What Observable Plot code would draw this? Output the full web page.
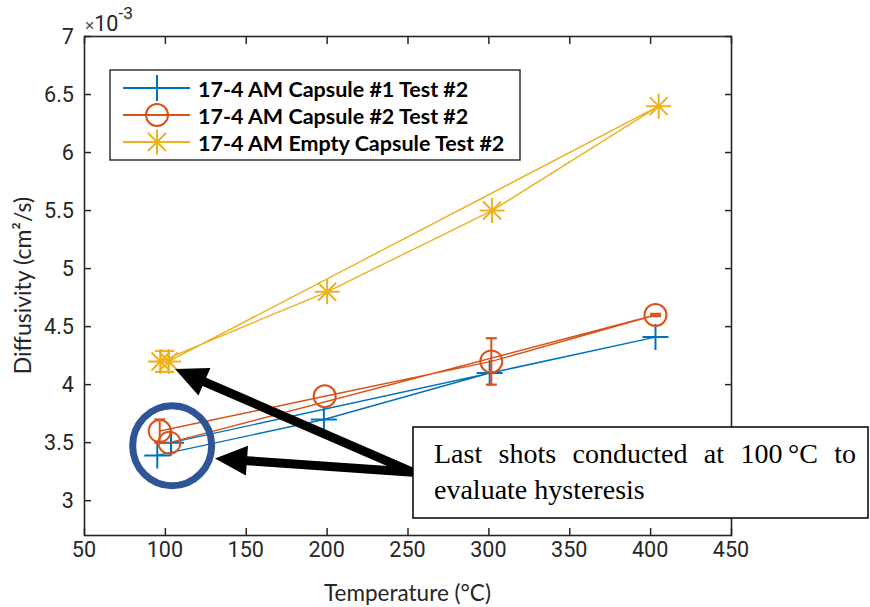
<!DOCTYPE html>
<html><head><meta charset="utf-8">
<script src="https://cdn.jsdelivr.net/npm/d3@7"></script>
<script src="https://cdn.jsdelivr.net/npm/@observablehq/plot@0.6"></script>
<style>
body{margin:0;background:#fff;}
#chart{width:870px;height:607px;overflow:hidden;}
</style></head><body><div id="chart"></div>
<script>
// ---- data (diffusivity in units of 1e-3 cm²/s; measurement order: heating 100→400 °C, then back to 100 °C)
const seriesNames = ["17-4 AM Capsule #1 Test #2", "17-4 AM Capsule #2 Test #2", "17-4 AM Empty Capsule Test #2"];
const seriesColors = ["#0072BD", "#D95319", "#EDB120"];
const cap1Temp = [95, 198, 300.5, 403, 103.5];
const cap1Diff = [3.39, 3.70, 4.10, 4.41, 3.50];
const cap1Err  = [0, 0, 0, 0, 0];
const cap2Temp = [96.5, 198.5, 301.5, 403, 102.5];
const cap2Diff = [3.60, 3.90, 4.20, 4.60, 3.50];
const cap2Err  = [0.10, 0, 0.20, 0.01, 0];
const emptyTemp = [97, 200, 302, 405, 102];
const emptyDiff = [4.20, 4.80, 5.50, 6.40, 4.20];
const emptyErr  = [0.09, 0, 0, 0, 0.09];
const xTicks = [50, 100, 150, 200, 250, 300, 350, 400, 450];
const yTicks = [3, 3.5, 4, 4.5, 5, 5.5, 6, 6.5, 7];
const xLabel = "Temperature (°C)";
const yLabel = "Diffusivity (cm²/s)";
const noteLines = ["Last shots conducted at 100\u2009°C to", "evaluate hysteresis"];
// annotation anchor points in data coordinates
const arrowTail = {t: 253.4, d: 3.24};
const arrowTips = [{t: 106.3, d: 4.13}, {t: 131.0, d: 3.36}];
const ringCenter = {t: 104.5, d: 3.47};

// ---- symbols (MATLAB-like)
const symPlus = {draw(c, s) { const r = Math.sqrt(s / Math.PI); c.moveTo(-r, 0); c.lineTo(r, 0); c.moveTo(0, -r); c.lineTo(0, r); }};
const symStar = {draw(c, s) { const r = Math.sqrt(s / Math.PI), q = r * 0.72; c.moveTo(-r, 0); c.lineTo(r, 0); c.moveTo(0, -r); c.lineTo(0, r); c.moveTo(-q, -q); c.lineTo(q, q); c.moveTo(-q, q); c.lineTo(q, -q); }};
const symCap = {draw(c, s) { const r = Math.sqrt(s / Math.PI); c.moveTo(-r, 0); c.lineTo(r, 0); }};
const symbols = [symPlus, "circle", symStar];
const symSize = [13, 11, 12.5];

const series = [[cap1Temp, cap1Diff, cap1Err], [cap2Temp, cap2Diff, cap2Err], [emptyTemp, emptyDiff, emptyErr]];
const rowsBy = series.map(([T, D, E], i) => T.map((t, j) => ({s: i, t, d: D[j], e: E[j]})));

const marks = [];
rowsBy.forEach((rows, i) => {
  const col = seriesColors[i];
  const err = rows.filter(r => r.e > 0);
  const caps = err.flatMap(r => [{t: r.t, y: r.d - r.e}, {t: r.t, y: r.d + r.e}]);
  marks.push(
    Plot.line(rows, {x: "t", y: "d", stroke: col, strokeWidth: 1.4}),
    Plot.ruleX(err, {x: "t", y1: r => r.d - r.e, y2: r => r.d + r.e, stroke: col, strokeWidth: 2}),
    Plot.dot(caps, {x: "t", y: "y", symbol: symCap, r: 5.5, stroke: col, strokeWidth: 2.2, fill: "none"}),
    Plot.dot(rows, {x: "t", y: "d", symbol: symbols[i], r: symSize[i], stroke: col, strokeWidth: 2, fill: "none"})
  );
});

const W = 870, H = 607;
const plot = Plot.plot({
  width: W, height: H,
  marginLeft: 84, marginRight: 139, marginTop: 36, marginBottom: 72,
  x: {domain: [50, 450]},
  y: {domain: [2.7, 7]},
  style: {fontFamily: "Roboto, 'Liberation Sans', Arial, sans-serif", fontSize: "20px", color: "#262626", background: "#fff", overflow: "visible"},
  marks: [
    ...marks,
    Plot.frame({stroke: "#262626", strokeWidth: 1.6}),
    Plot.axisX({ticks: xTicks, tickSize: -7, tickFormat: () => "", label: null, strokeWidth: 1.5}),
    Plot.axisX({anchor: "top", ticks: xTicks, tickSize: -7, tickFormat: () => "", label: null, strokeWidth: 1.5}),
    Plot.axisY({ticks: yTicks, tickSize: -7, tickFormat: () => "", label: null, strokeWidth: 1.5}),
    Plot.axisY({anchor: "right", ticks: yTicks, tickSize: -7, tickFormat: () => "", label: null, strokeWidth: 1.5})
  ]
});
document.getElementById("chart").appendChild(plot);

const svg = d3.select(plot);
const sx = plot.scale("x"), sy = plot.scale("y");
const X = v => sx.apply(v), Y = v => sy.apply(v);
const g = svg.append("g").attr("text-anchor", "start");
const tickFamily = "Roboto, 'Liberation Sans', Arial, sans-serif";

// calibrate tick-label size so "3.5" is ~30px wide, as in the reference
const probe = g.append("text").attr("font-family", tickFamily).attr("font-size", 20).style("font-size", "20px").text("3.5");
const pw = probe.node().getComputedTextLength() || 27.8;
probe.remove();
const fs = Math.max(14, Math.min(30, 20 * 30 / pw));

// tick labels placed through Plot's scales
const tl = g.append("g").attr("font-family", tickFamily).attr("fill", "#262626");
yTicks.forEach(v => tl.append("text").attr("x", 74).attr("y", Y(v)).attr("text-anchor", "end").attr("dominant-baseline", "central")
  .attr("font-size", fs).style("font-size", fs + "px").text(String(v)));
xTicks.forEach(v => tl.append("text").attr("x", X(v)).attr("y", 549).attr("text-anchor", "middle").attr("dominant-baseline", "central")
  .attr("font-size", fs).style("font-size", fs + "px").text(String(v)));

const titleFont = "Lato, 'Open Sans', sans-serif";
// axis titles
g.append("text").attr("x", (84 + 731) / 2).attr("y", 592).attr("text-anchor", "middle").attr("dominant-baseline", "central")
  .style("font-family", titleFont).style("font-size", "22.5px").attr("fill", "#262626").text(xLabel);
g.append("text").attr("transform", `translate(22,${(36 + 535) / 2}) rotate(-90)`).attr("text-anchor", "middle").attr("dominant-baseline", "central")
  .style("font-family", titleFont).style("font-size", "23px").attr("fill", "#262626").text(yLabel);
// exponent
const ex = g.append("text").attr("x", 85).attr("y", 31).attr("text-anchor", "start").attr("font-family", tickFamily).attr("font-size", fs).style("font-size", fs + "px").attr("fill", "#262626");
ex.append("tspan").attr("font-size", fs * 0.8).style("font-size", fs * 0.8 + "px").attr("fill", "#555").text("×");
ex.append("tspan").text("10");
ex.append("tspan").attr("dy", -12).attr("font-size", fs * 0.8).style("font-size", fs * 0.8 + "px").text("-3");

// legend
const lg = g.append("g");
lg.append("rect").attr("x", 110).attr("y", 70).attr("width", 410).attr("height", 90).attr("fill", "#fff").attr("stroke", "#262626").attr("stroke-width", 1.4);
const legendY = [88, 115, 142];
seriesNames.forEach((name, i) => {
  const y = legendY[i], col = seriesColors[i];
  lg.append("line").attr("x1", 123).attr("x2", 190).attr("y1", y).attr("y2", y).attr("stroke", col).attr("stroke-width", 2);
  const sym = symbols[i] === "circle" ? d3.symbolCircle : symbols[i];
  lg.append("path").attr("transform", `translate(157,${y})`).attr("d", d3.symbol(sym, symSize[i] * symSize[i] * Math.PI)())
    .attr("fill", "none").attr("stroke", col).attr("stroke-width", 2);
  lg.append("text").attr("x", 198).attr("y", y + 1).attr("text-anchor", "start").attr("dominant-baseline", "central")
    .style("font-family", titleFont).style("font-weight", "700").style("font-size", "21.5px").attr("fill", "#000").text(name);
});

// hysteresis ring
g.append("ellipse").attr("cx", X(ringCenter.t)).attr("cy", Y(ringCenter.d)).attr("rx", 39.5).attr("ry", 40)
  .attr("fill", "none").attr("stroke", "#2F5597").attr("stroke-width", 7);

// arrows
function arrowPath(x0, y0, x1, y1, w = 9, hl = 32, hw = 30) {
  const dx = x1 - x0, dy = y1 - y0, L = Math.hypot(dx, dy), ux = dx / L, uy = dy / L, nx = -uy, ny = ux;
  const bx = x1 - ux * hl, by = y1 - uy * hl;
  const p = [[x0 + nx * w / 2, y0 + ny * w / 2], [bx + nx * w / 2, by + ny * w / 2], [bx + nx * hw / 2, by + ny * hw / 2], [x1, y1],
             [bx - nx * hw / 2, by - ny * hw / 2], [bx - nx * w / 2, by - ny * w / 2], [x0 - nx * w / 2, y0 - ny * w / 2]];
  return "M" + p.map(q => q.join(",")).join("L") + "Z";
}
arrowTips.forEach(tp => {
  g.append("path").attr("d", arrowPath(X(arrowTail.t), Y(arrowTail.d), X(tp.t), Y(tp.d))).attr("fill", "#000");
});

// note box
g.append("rect").attr("x", 413).attr("y", 427).attr("width", 455).attr("height", 91).attr("fill", "#fff").attr("stroke", "#000").attr("stroke-width", 1.5);
const noteFont = "'Liberation Serif', 'Times New Roman', serif";
const t1 = g.append("text").attr("x", 434).attr("y", 463).attr("text-anchor", "start").style("font-family", noteFont).style("font-size", "28px").attr("fill", "#000").text(noteLines[0]);
const natural = t1.node().getComputedTextLength();
const spaces = (noteLines[0].match(/ /g) || []).length;
t1.attr("word-spacing", Math.max(0, ((856 - 434) - natural) / spaces));
g.append("text").attr("x", 434).attr("y", 499).attr("text-anchor", "start").style("font-family", noteFont).style("font-size", "28px").attr("fill", "#000").text(noteLines[1]);
</script></body></html>
